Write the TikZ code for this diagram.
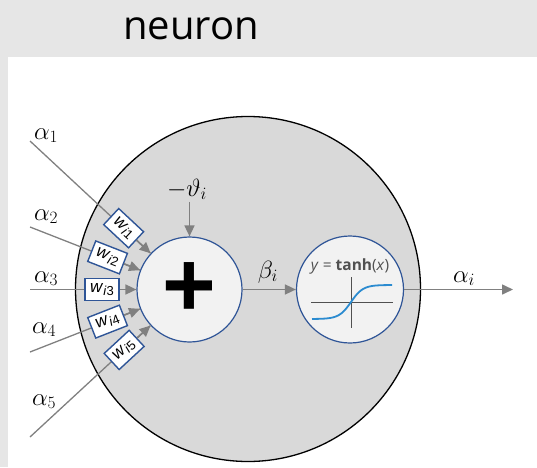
\documentclass[tikz,border=0pt]{standalone}
\usepackage{fontspec}
\newfontfamily\headfont{Open Sans}
\newfontfamily\wfont{Liberation Sans}
\newfontfamily\eqfont{Open Sans}
\usetikzlibrary{arrows.meta,calc}
\definecolor{hdr}{HTML}{E6E6E6}
\definecolor{bigc}{HTML}{D9D9D9}
\definecolor{innc}{HTML}{F2F2F2}
\definecolor{nblue}{HTML}{2F5597}
\definecolor{arrgray}{HTML}{808080}
\definecolor{curveblue}{HTML}{2B8BD0}
\definecolor{eqgray}{HTML}{505050}
\begin{document}
\begin{tikzpicture}[x=1pt,y=1pt,
  unitc/.style={circle, draw=nblue, line width=1.2pt, fill=innc, inner sep=0pt},
  wbox/.style={draw=nblue, line width=1.4pt, fill=white, minimum width=34pt, minimum height=22pt, inner sep=0.5pt, font=\wfont\fontsize{17}{17}\selectfont},
  inline/.style={draw=arrgray, line width=1.3pt},
  arr/.style={draw=arrgray, line width=1.6pt, -{Triangle[length=11pt,width=10pt]}},
  mlbl/.style={inner sep=0pt, font=\fontsize{24}{24}\selectfont}
]
\useasboundingbox (0,0) rectangle (537,467);
\fill[hdr] (0,410) rectangle (537,467);
\fill[hdr] (0,0) rectangle (8,410);
\node[font=\headfont\fontsize{40}{40}\selectfont, anchor=base, inner sep=0pt] (title) at (191,427) {neuron};

% cell body
\node[circle, draw=black, line width=1.3pt, fill=bigc, minimum size=345pt, inner sep=0pt] (cell) at (248,178) {};

% summation unit
\node[unitc, minimum size=105pt] (sum) at (189.5,177.5) {\wfont\fontsize{92}{92}\selectfont\bfseries +};

% activation unit
\node[unitc, minimum size=107pt] (act) at (350,177.5) {};
\node[font=\eqfont\fontsize{15.5}{15.5}\selectfont, text=eqgray, inner sep=0pt] (eq) at (350,201) {\textit{y} = \textbf{tanh}(\textit{x})};
\draw[eqgray, line width=1pt] (311,165) -- (393,165);
\draw[eqgray, line width=1pt] (351,190) -- (351,139);
\draw[curveblue, line width=1.8pt, domain=-39:41, samples=60, smooth] plot ({351+\x},{165+17*tanh(\x/12)});

% inputs
\coordinate (a1) at (30,326);
\coordinate (a2) at (30,240);
\coordinate (a3) at (30,177.5);
\coordinate (a4) at (30,115);
\coordinate (a5) at (30,30);

\draw[inline] (a1) -- (sum);
\draw[inline] (a2) -- (sum);
\draw[inline] (a3) -- (sum);
\draw[inline] (a4) -- (sum);
\draw[inline] (a5) -- (sum);

\node[wbox, rotate=-43] (w1) at ($(sum)!90pt!(a1)$) {\textit{w}\raisebox{-3pt}{\fontsize{13}{13}\selectfont\textit{i}1}};
\node[wbox, rotate=-21.4] (w2) at ($(sum)!88pt!(a2)$) {\textit{w}\raisebox{-3pt}{\fontsize{13}{13}\selectfont\textit{i}2}};
\node[wbox] (w3) at ($(sum)!87.5pt!(a3)$) {\textit{w}\raisebox{-3pt}{\fontsize{13}{13}\selectfont\textit{i}3}};
\node[wbox, rotate=21.4] (w4) at ($(sum)!88pt!(a4)$) {\textit{w}\raisebox{-3pt}{\fontsize{13}{13}\selectfont\textit{i}4}};
\node[wbox, rotate=42.8] (w5) at ($(sum)!89pt!(a5)$) {\textit{w}\raisebox{-3pt}{\fontsize{13}{13}\selectfont\textit{i}5}};

\draw[arr] (w1) -- (sum);
\draw[arr] (w2) -- (sum);
\draw[arr] (w3) -- (sum);
\draw[arr] (w4) -- (sum);
\draw[arr] (w5) -- (sum);

\node[mlbl, anchor=base west] (l1) at (34,328) {$\alpha_1$};
\node[mlbl, anchor=base west] (l2) at (34,247) {$\alpha_2$};
\node[mlbl, anchor=base west] (l3) at (34,185) {$\alpha_3$};
\node[mlbl, anchor=base west] (l4) at (32,134) {$\alpha_4$};
\node[mlbl, anchor=base west] (l5) at (32,62) {$\alpha_5$};

% bias
\node[mlbl, anchor=base, inner sep=2pt] (theta) at (187,271) {$-\vartheta_i$};
\draw[arr] (theta.south -| sum.north) -- (sum.north);

% sum to activation
\draw[arr] (sum) -- (act);
\node[mlbl, anchor=base] (beta) at (268,189) {$\beta_i$};

% output
\coordinate (outend) at (513,177.5);
\draw[arr] (act) -- (outend);
\node[mlbl, anchor=base] (aout) at (464,185) {$\alpha_i$};
\end{tikzpicture}
\end{document}
